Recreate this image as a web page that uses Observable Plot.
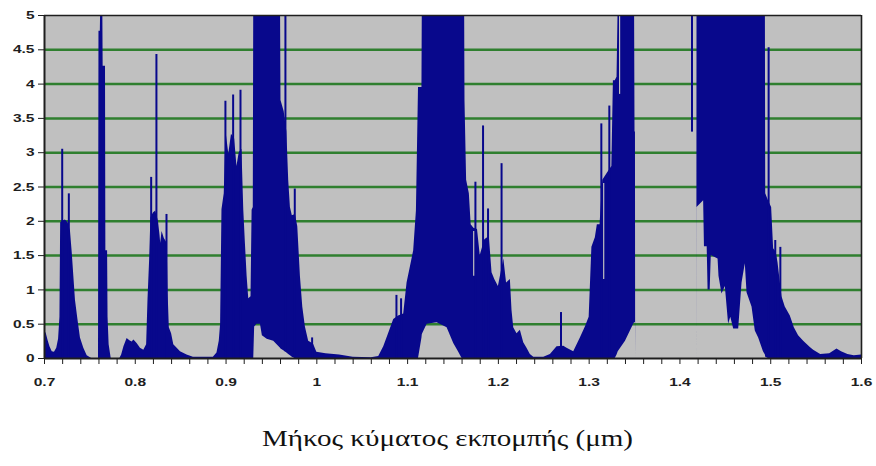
<!DOCTYPE html>
<html><head><meta charset="utf-8">
<script src="https://cdn.jsdelivr.net/npm/d3@7"></script>
<script src="https://cdn.jsdelivr.net/npm/@observablehq/plot@0.6"></script>
<style>
html,body{margin:0;padding:0;background:#fff;}
#chart svg{display:block}
</style></head><body>
<div id="chart"></div>
<svg id="cap" width="876" height="71" style="display:block">
<text x="447.5" y="51" text-anchor="middle" font-family="Liberation Serif, 'Times New Roman', serif" font-size="23" fill="#111" textLength="371" lengthAdjust="spacingAndGlyphs">Μήκος κύματος εκπομπής (μm)</text>
</svg>
<script>
// Wavelength (μm), upper envelope and lower envelope of the dense emission trace
const wavelength = [
0.7000,0.7020,0.7040,0.7060,0.7085,0.7110,0.7135,0.7155,0.7170,0.7178,0.7200,0.7230,0.7260,0.7286,0.7305,0.7323,0.7341,0.7367,0.7396,0.7433,0.7470,0.7520,
0.7595,0.7600,0.7615,0.7620,0.7642,0.7646,0.7672,0.7676,0.7695,0.7700,0.7712,0.7735,
0.7830,0.7850,0.7875,0.7910,0.7940,0.7965,0.7985,0.8020,0.8057,0.8094,
0.8125,0.8140,0.8158,0.8172,0.8200,0.8225,0.8255,0.8272,0.8280,0.8295,0.8320,0.8351,0.8362,0.8375,0.8400,0.8424,0.8498,0.8570,0.8640,
0.8860,0.8900,0.8925,0.8940,0.8955,0.8980,0.9000,0.9030,0.9060,0.9095,0.9120,0.9145,0.9175,0.9195,0.9213,0.9232,0.9250,0.9275,0.9287,0.9300,
0.9305,0.9315,0.9340,0.9379,0.9400,0.9453,0.9525,0.9600,0.9605,0.9640,0.9670,0.9690,0.9709,0.9730,0.9764,0.9790,0.9819,0.9845,0.9874,0.9910,0.9963,
1.0000,1.0100,1.0250,1.0400,1.0600,1.0682,1.0737,1.0790,1.0847,1.0900,1.0957,1.0994,1.1030,1.1067,1.1097,
1.1120,1.1158,1.1162,1.1215,1.1325,1.1435,1.1508,1.1560,1.1600,1.1628,1.1632,1.1650,1.1680,1.1700,1.1730,1.1770,1.1800,1.1850,1.1900,1.1930,1.1960,1.2000,1.2060,1.2090,1.2132,1.2150,1.2169,1.2205,1.2242,1.2279,1.2315,1.2352,1.2390,
1.2500,1.2573,1.2646,1.2720,1.2756,1.2830,1.2903,1.2958,1.3000,1.3030,1.3068,1.3090,1.3120,1.3150,1.3200,1.3250,1.3267,1.3287,1.3307,1.3320,1.3400,1.3490,1.3500,1.3505,1.3510,1.3512,
1.4186,1.4188,1.4261,1.4270,1.4300,1.4310,1.4333,1.4345,1.4420,1.4430,1.4463,1.4500,1.4536,1.4560,1.4592,1.4647,1.4684,1.4720,1.4739,1.4794,1.4830,1.4867,1.4920,1.4941,
1.4945,1.4975,1.5010,1.5032,1.5060,1.5080,1.5124,1.5160,1.5216,1.5260,1.5307,1.5363,1.5436,1.5473,1.5550,1.5650,1.5730,1.5780,1.5850,1.5920,1.6000
];
const upper = [
0.41,0.36,0.26,0.17,0.10,0.09,0.15,0.28,0.60,1.98,2.00,2.02,1.98,1.86,1.55,1.20,0.85,0.58,0.30,0.15,0.04,0.00,
0.00,4.77,4.77,5.20,5.20,4.26,4.26,1.57,1.57,0.60,0.20,0.00,
0.00,0.05,0.17,0.29,0.26,0.24,0.27,0.22,0.15,0.12,
0.20,0.85,1.43,2.05,2.12,2.15,2.00,1.80,1.68,1.85,1.75,1.68,0.94,0.45,0.36,0.20,0.10,0.05,0.02,
0.02,0.08,0.25,0.50,2.17,2.40,3.30,2.98,3.27,3.20,2.80,3.00,3.05,2.17,1.68,1.20,0.87,0.90,2.16,2.20,
5.20,5.20,5.20,5.20,5.20,5.20,5.20,5.20,3.76,3.60,3.30,2.60,2.20,2.08,2.10,1.92,1.20,0.75,0.46,0.25,0.21,
0.09,0.07,0.05,0.02,0.01,0.03,0.17,0.36,0.57,0.62,0.65,1.10,1.33,1.57,2.15,
3.95,3.95,5.20,5.20,5.20,5.20,5.20,5.20,5.20,5.20,3.76,2.60,2.40,1.95,1.90,1.88,1.50,1.73,1.78,1.25,1.15,1.05,1.45,1.10,1.15,0.70,0.45,0.36,0.41,0.23,0.15,0.06,0.02,
0.02,0.06,0.17,0.18,0.15,0.10,0.30,0.46,0.60,1.62,1.76,1.95,1.95,2.60,2.70,2.80,4.05,4.05,4.10,5.20,5.20,5.20,5.20,3.30,3.30,0.00,
0.00,5.20,5.20,5.20,5.20,5.20,5.20,5.20,5.20,5.20,5.20,5.20,5.20,5.20,5.20,5.20,5.20,5.20,5.20,5.20,5.20,5.20,5.20,5.20,
2.40,2.30,2.20,1.60,1.55,1.40,0.90,0.75,0.62,0.45,0.33,0.25,0.16,0.12,0.06,0.07,0.14,0.10,0.06,0.04,0.05
];
const lower = [
0,0,0,0,0,0,0,0,0,0,0,0,0,0,0,0,0,0,0,0,0,0,
0,0,0,0,0,0,0,0,0,0,0,0,
0,0,0,0,0,0,0,0,0,0,
0,0,0,0,0,0,0,0,0,0,0,0,0,0,0,0,0,0,0,
0,0,0,0,0,0,0,0,0,0,0,0,0,0,0,0,0,0,0,0,
0.00,0.46,0.50,0.50,0.33,0.28,0.25,0.15,0.14,0.11,0.08,0.06,0.04,0.02,0.00,0,0,0,0,0,0,
0,0,0,0,0,0,0,0,0,0,0,0,0,0,0,
0.00,0.30,0.35,0.50,0.52,0.45,0.22,0.10,0.00,0,0,0,0,0,0,0,0,0,0,0,0,0,0,0,0,0,0,0,0,0,0,0,0,
0,0,0,0,0,0,0,0,0,0,0,0,0,0,0,0,0,0.00,0.05,0.10,0.25,0.50,0.52,0.52,0.52,0.00,
0.00,2.20,2.30,1.63,1.63,1.00,1.00,1.50,1.45,1.20,0.94,1.05,0.50,0.60,0.43,0.43,1.10,1.38,0.96,0.75,0.40,0.30,0.10,0.05,
0.02,0.00,0,0,0,0,0,0,0,0,0,0,0,0,0,0,0,0,0,0,0
];
// Isolated narrow emission lines
const spikeX    = [0.7195,0.7268,0.8175,0.8233,0.8344,0.8993,0.9078,0.9159,0.9654,0.9757,0.9948,1.0877,1.0928,1.1747,1.1831,1.1886,1.2035,1.2690,1.3134,1.3222,1.4133,1.4977,1.5050,1.5106];
const spikeTop  = [3.05,2.40,2.64,4.43,2.10,3.75,3.84,3.91,5.20,2.47,0.30,0.92,0.87,2.57,3.39,2.18,2.84,0.67,3.42,3.68,5.20,4.53,1.72,1.62];
const spikeBase = [0,0,0,0,0,0,0,0,0.10,0,0,0,0,0,0,0,0,0,0,0,3.30,0,0,0];
// Thin gaps inside the dense bands
const gapX    = [1.1728,1.3160,1.3335];
const gapTop  = [1.85,2.55,5.00];
const gapBase = [1.20,1.15,3.85];

const yTicks = [0,0.5,1,1.5,2,2.5,3,3.5,4,4.5,5];
const yLabels = ["0","0.5","1","1.5","2","2.5","3","3.5","4","4.5","5"];
const xTicks = [0.7,0.8,0.9,1.0,1.1,1.2,1.3,1.4,1.5,1.6];
const xLabels = ["0.7","0.8","0.9","1","1.1","1.2","1.3","1.4","1.5","1.6"];

const rows = wavelength.map((x, i) => ({x, hi: upper[i], lo: lower[i]}));
const spikes = spikeX.map((x, i) => ({x, y1: spikeBase[i], y2: spikeTop[i]}));
const gaps = gapX.map((x, i) => ({x, y1: gapBase[i], y2: gapTop[i]}));
const yLab = new Map(yTicks.map((d, i) => [d, yLabels[i]]));
const xLab = new Map(xTicks.map((d, i) => [d, xLabels[i]]));

const navy = "#08088c", bg = "#c0c0c0", grid = "#2f7f2f", ink = "#1e1e1e";

const chart = Plot.plot({
  width: 876, height: 395,
  marginTop: 15, marginRight: 15, marginBottom: 37, marginLeft: 44,
  x: {domain: [0.7, 1.6]},
  y: {domain: [0, 5]},
  style: {fontFamily: "'Liberation Sans', Arial, sans-serif", fontSize: "11.5px", fontWeight: "bold", color: ink, background: "white"},
  marks: [
    Plot.frame({fill: bg, stroke: null}),
    Plot.ruleY(yTicks.filter(d => d > 0 && d < 5), {stroke: grid, strokeWidth: 2.5}),
    Plot.areaY(rows, {x: "x", y1: "lo", y2: "hi", fill: navy, clip: true}),
    Plot.ruleX(spikes, {x: "x", y1: "y1", y2: "y2", stroke: navy, strokeWidth: 2, clip: true}),
    Plot.ruleX(gaps, {x: "x", y1: "y1", y2: "y2", stroke: bg, strokeWidth: 1.2, clip: true}),
    Plot.ruleY([5], {stroke: ink, strokeWidth: 1.6}),
    Plot.ruleX([1.6], {stroke: ink, strokeWidth: 1.6}),
    Plot.ruleX([0.7], {stroke: ink, strokeWidth: 2}),
    Plot.ruleY([0], {stroke: ink, strokeWidth: 2}),
    Plot.axisY(yTicks, {tickSize: 6, tickPadding: 4, tickFormat: d => yLab.get(d), label: null, stroke: ink}),
    Plot.axisX(d3.ticks(0.7, 1.6, 45), {tickSize: 6, tickFormat: () => "", label: null, stroke: ink}),
    Plot.axisX(xTicks, {tickSize: 0, tickPadding: 19, tickFormat: d => xLab.get(d), label: null})
  ]
});
document.getElementById("chart").append(chart);
chart.querySelectorAll('g[aria-label$="tick label"] text').forEach(t => {
  const w = t.getComputedTextLength();
  if (w > 0) {
    t.setAttribute("textLength", (w * 1.35).toFixed(1));
    t.setAttribute("lengthAdjust", "spacingAndGlyphs");
  }
});
</script>
</body></html>
